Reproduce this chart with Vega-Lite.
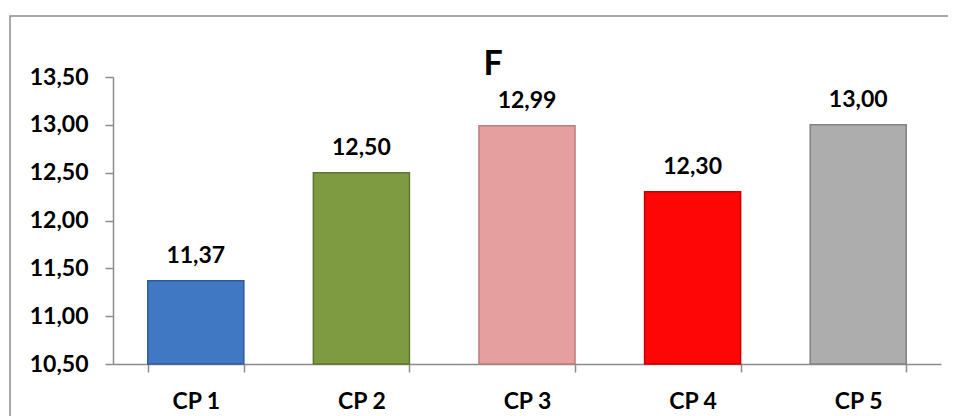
{
  "$schema": "https://vega.github.io/schema/vega-lite/v6.json",
  "autosize": {"type": "none"},
  "padding": {"left": 10, "top": 16, "right": -4, "bottom": -4},
  "width": 952,
  "height": 404,
  "background": "white",
  "config": {
    "locale": {"number": {"decimal": ",", "thousands": ".", "grouping": [3], "currency": ["", " €"]}},
    "view": {"stroke": "#8c8c8c", "strokeWidth": 1.5, "strokeDash": [938, 562, 3000]},
    "font": "Lato"
  },
  "data": {
    "values": [
      {"cp": "CP 1", "value": 11.37},
      {"cp": "CP 2", "value": 12.50},
      {"cp": "CP 3", "value": 12.99},
      {"cp": "CP 4", "value": 12.30},
      {"cp": "CP 5", "value": 13.00}
    ]
  },
  "encoding": {
    "x": {
      "field": "cp",
      "type": "nominal",
      "sort": null,
      "scale": {"range": [103, 931], "paddingInner": 0.42, "paddingOuter": 0.21},
      "axis": {
        "title": null,
        "labelAngle": 0,
        "offset": -56,
        "tickBand": "extent",
        "tickSize": 8,
        "tickColor": "#8c8c8c",
        "domainColor": "#8c8c8c",
        "domainWidth": 1.5,
        "tickWidth": 1.5,
        "labelFont": "Lato",
        "labelFontSize": 23,
        "labelFontWeight": "bold",
        "labelColor": "black",
        "labelPadding": 18
      }
    }
  },
  "layer": [
    {
      "mark": {"type": "bar", "strokeWidth": 1.5},
      "encoding": {
        "y": {
          "field": "value",
          "type": "quantitative",
          "scale": {"domain": [10.5, 13.5], "range": [348, 61], "zero": false, "nice": false},
          "axis": {
            "title": null,
            "offset": -103,
            "values": [10.5, 11, 11.5, 12, 12.5, 13, 13.5],
            "format": ".2f",
            "grid": false,
            "tickSize": 8,
            "tickColor": "#8c8c8c",
            "domainColor": "#8c8c8c",
            "domainWidth": 1.5,
            "tickWidth": 1.5,
            "labelFont": "Lato",
            "labelFontSize": 23,
            "labelFontWeight": "bold",
            "labelColor": "black",
            "labelPadding": 17
          }
        },
        "y2": {"datum": 10.5},
        "color": {
          "field": "cp",
          "type": "nominal",
          "scale": {"domain": ["CP 1", "CP 2", "CP 3", "CP 4", "CP 5"], "range": ["#4178c4", "#7f9b41", "#e49f9e", "#ff0606", "#adadad"]},
          "legend": null
        },
        "stroke": {
          "field": "cp",
          "type": "nominal",
          "scale": {"domain": ["CP 1", "CP 2", "CP 3", "CP 4", "CP 5"], "range": ["#2e5c9c", "#5e7530", "#b87f7e", "#c40000", "#838383"]},
          "legend": null
        }
      }
    },
    {
      "mark": {"type": "text", "font": "Lato", "fontSize": 23, "fontWeight": "bold", "color": "black", "baseline": "alphabetic", "dy": -18},
      "encoding": {
        "y": {"field": "value", "type": "quantitative"},
        "text": {"field": "value", "type": "quantitative", "format": ".2f"}
      }
    },
    {
      "data": {"values": [{"cp": "CP 3", "label": "F"}]},
      "mark": {"type": "text", "font": "Lato", "fontSize": 34, "fontWeight": "bold", "color": "black", "baseline": "alphabetic", "align": "center", "dx": -34, "dy": -2},
      "encoding": {
        "y": {"datum": 13.5, "type": "quantitative"},
        "text": {"field": "label", "type": "nominal"}
      }
    }
  ]
}
